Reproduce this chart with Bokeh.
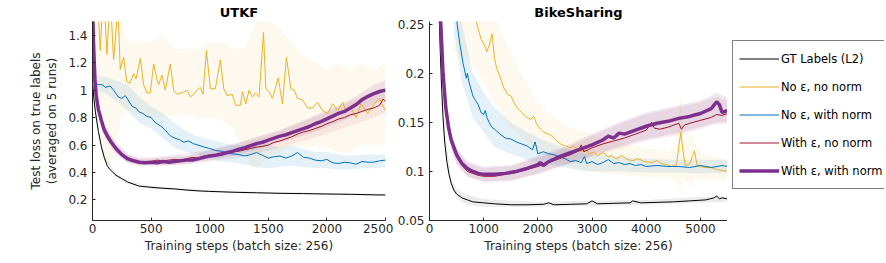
from bokeh.plotting import figure
from bokeh.layouts import row
from bokeh.models import Legend, LegendItem, FixedTicker, Range1d, NumeralTickFormatter
from bokeh.embed import file_html
from bokeh.resources import INLINE

# ---------------- UTKF ----------------
utk_gt_x = [0, 10, 25, 50, 75, 100, 125, 150, 200, 250, 300, 400, 500, 600, 700, 800, 900, 1000, 1200, 1400, 1600, 1800, 2000, 2200, 2400, 2500]
utk_gt_y = [1.06, 0.95, 0.84, 0.70, 0.59, 0.51, 0.45, 0.42, 0.38, 0.355, 0.33, 0.30, 0.292, 0.285, 0.28, 0.272, 0.266, 0.262, 0.256, 0.252, 0.248, 0.246, 0.243, 0.241, 0.237, 0.236]
utk_gt_bx = [0, 50, 100, 200, 300, 500, 1000, 1500, 2000, 2500]
utk_gt_lo = [1.0, 0.68, 0.49, 0.365, 0.32, 0.282, 0.254, 0.244, 0.235, 0.228]
utk_gt_hi = [1.12, 0.72, 0.53, 0.395, 0.34, 0.302, 0.270, 0.258, 0.25, 0.244]

utk_y_x = [0, 15, 37, 66, 94, 123, 151, 180, 217, 237, 265, 293, 320, 351, 371, 408, 436, 465, 493, 522, 550, 564, 593, 621, 664, 692, 721, 764, 807, 835, 863, 892, 920, 943, 972, 1006, 1048, 1091, 1120, 1148, 1191, 1222, 1262, 1279, 1308, 1336, 1364, 1393, 1421, 1459, 1479, 1507, 1536, 1584, 1621, 1655, 1692, 1721, 1750, 1792, 1835, 1877, 1920, 1963, 2006, 2049, 2092, 2135, 2163, 2206, 2249, 2291, 2348, 2405, 2448, 2476, 2500]
utk_y_y = [1.36, 1.7, 1.8, 1.29, 1.75, 1.26, 1.7, 1.22, 1.6, 1.15, 1.24, 1.06, 1.05, 1.12, 1.08, 1.23, 1.04, 0.98, 0.98, 1.19, 1.08, 1.04, 1.11, 1.0, 1.19, 1.0, 0.97, 0.98, 1.0, 0.95, 0.97, 1.0, 1.02, 0.97, 1.29, 1.01, 1.01, 1.22, 1.01, 0.96, 0.97, 0.89, 0.89, 0.99, 0.9, 1.0, 0.95, 0.98, 0.95, 1.42, 1.01, 0.99, 0.94, 1.09, 0.9, 1.24, 1.01, 1.0, 0.94, 0.93, 0.87, 0.87, 0.91, 0.85, 0.83, 0.9, 0.85, 0.91, 0.85, 0.87, 0.8, 0.9, 0.83, 0.9, 0.94, 0.89, 0.85]
utk_y_bx = [0, 50, 100, 150, 200, 250, 300, 400, 500, 600, 700, 800, 900, 1000, 1100, 1200, 1300, 1350, 1400, 1450, 1500, 1600, 1700, 1800, 1900, 2000, 2100, 2200, 2300, 2400, 2500]
utk_y_lo = [1.2, 0.9, 0.5, 0.45, 0.6, 0.8, 0.85, 0.82, 0.8, 0.8, 0.82, 0.82, 0.8, 0.8, 0.78, 0.72, 0.55, 0.45, 0.42, 0.48, 0.5, 0.55, 0.6, 0.58, 0.6, 0.58, 0.55, 0.55, 0.6, 0.6, 0.6]
utk_y_hi = [1.6, 1.6, 1.6, 1.6, 1.6, 1.5, 1.35, 1.35, 1.35, 1.4, 1.3, 1.3, 1.3, 1.35, 1.35, 1.3, 1.3, 1.4, 1.5, 1.6, 1.5, 1.45, 1.35, 1.25, 1.2, 1.15, 1.2, 1.15, 1.2, 1.15, 1.2]

utk_b_x = [0, 25, 50, 80, 110, 150, 180, 220, 250, 280, 310, 340, 370, 400, 430, 460, 500, 540, 580, 620, 660, 700, 740, 780, 820, 860, 900, 950, 1000, 1050, 1100, 1150, 1200, 1250, 1300, 1350, 1400, 1450, 1500, 1550, 1600, 1650, 1700, 1750, 1800, 1850, 1900, 1950, 2000, 2050, 2100, 2150, 2200, 2250, 2300, 2350, 2400, 2450, 2500]
utk_b_y = [1.07, 1.05, 1.04, 1.04, 1.02, 1.03, 1.0, 0.95, 0.94, 0.96, 0.92, 0.88, 0.87, 0.84, 0.83, 0.81, 0.80, 0.76, 0.74, 0.71, 0.67, 0.65, 0.64, 0.62, 0.63, 0.61, 0.60, 0.585, 0.575, 0.56, 0.555, 0.54, 0.535, 0.53, 0.52, 0.53, 0.545, 0.525, 0.505, 0.515, 0.52, 0.505, 0.52, 0.545, 0.51, 0.505, 0.49, 0.485, 0.495, 0.47, 0.465, 0.475, 0.47, 0.46, 0.48, 0.475, 0.475, 0.485, 0.49]
utk_b_bx = [0, 100, 200, 300, 400, 500, 600, 700, 800, 900, 1000, 1100, 1200, 1300, 1400, 1500, 1600, 1700, 1800, 1900, 2000, 2100, 2200, 2300, 2400, 2500]
utk_b_lo = [1.0, 0.98, 0.92, 0.85, 0.76, 0.72, 0.65, 0.58, 0.55, 0.53, 0.5, 0.48, 0.47, 0.46, 0.44, 0.43, 0.44, 0.45, 0.44, 0.43, 0.43, 0.42, 0.42, 0.43, 0.43, 0.44]
utk_b_hi = [1.1, 1.1, 1.07, 1.04, 0.95, 0.88, 0.83, 0.76, 0.7, 0.66, 0.64, 0.62, 0.6, 0.6, 0.63, 0.6, 0.58, 0.6, 0.57, 0.55, 0.55, 0.53, 0.52, 0.53, 0.53, 0.53]

utk_r_x = [0, 10, 20, 30, 50, 75, 100, 130, 160, 200, 250, 300, 350, 400, 450, 500, 550, 600, 650, 700, 750, 800, 850, 900, 950, 1000, 1050, 1100, 1150, 1200, 1250, 1300, 1350, 1400, 1450, 1500, 1550, 1600, 1650, 1700, 1750, 1800, 1850, 1900, 1950, 2000, 2050, 2100, 2150, 2200, 2250, 2300, 2350, 2400, 2450, 2480, 2500]
utk_r_y = [1.6, 1.28, 1.07, 0.96, 0.85, 0.77, 0.70, 0.655, 0.615, 0.57, 0.53, 0.505, 0.49, 0.48, 0.478, 0.48, 0.49, 0.485, 0.49, 0.495, 0.49, 0.50, 0.51, 0.505, 0.52, 0.525, 0.53, 0.525, 0.54, 0.55, 0.555, 0.565, 0.575, 0.585, 0.59, 0.6, 0.62, 0.63, 0.645, 0.66, 0.68, 0.695, 0.705, 0.72, 0.735, 0.755, 0.77, 0.79, 0.80, 0.82, 0.83, 0.845, 0.86, 0.87, 0.89, 0.935, 0.915]
utk_r_bx = [0, 50, 100, 200, 300, 400, 500, 600, 800, 1000, 1200, 1400, 1600, 1800, 2000, 2200, 2400, 2500]
utk_r_lo = [1.5, 0.81, 0.66, 0.53, 0.47, 0.45, 0.45, 0.45, 0.46, 0.48, 0.5, 0.54, 0.58, 0.63, 0.68, 0.74, 0.8, 0.83]
utk_r_hi = [1.7, 0.9, 0.75, 0.62, 0.54, 0.51, 0.51, 0.52, 0.54, 0.57, 0.61, 0.65, 0.7, 0.77, 0.84, 0.92, 0.98, 1.0]

utk_p_x = [0, 10, 20, 30, 50, 75, 100, 130, 160, 200, 250, 300, 350, 400, 450, 500, 550, 600, 650, 700, 750, 800, 850, 900, 950, 1000, 1050, 1100, 1150, 1200, 1250, 1300, 1350, 1400, 1450, 1500, 1550, 1600, 1650, 1700, 1750, 1800, 1850, 1900, 1950, 2000, 2050, 2100, 2150, 2200, 2250, 2300, 2350, 2400, 2450, 2500]
utk_p_y = [1.65, 1.3, 1.08, 0.97, 0.86, 0.78, 0.71, 0.66, 0.62, 0.575, 0.53, 0.50, 0.485, 0.475, 0.47, 0.475, 0.47, 0.48, 0.475, 0.48, 0.485, 0.49, 0.49, 0.50, 0.51, 0.52, 0.525, 0.535, 0.545, 0.555, 0.57, 0.58, 0.595, 0.61, 0.62, 0.635, 0.65, 0.665, 0.675, 0.69, 0.705, 0.72, 0.735, 0.755, 0.77, 0.79, 0.81, 0.83, 0.845, 0.87, 0.895, 0.93, 0.955, 0.975, 0.99, 1.0]
utk_p_bx = [0, 50, 100, 200, 300, 400, 500, 600, 800, 1000, 1200, 1400, 1600, 1800, 2000, 2200, 2400, 2500]
utk_p_lo = [1.5, 0.82, 0.67, 0.54, 0.47, 0.45, 0.45, 0.45, 0.46, 0.49, 0.52, 0.57, 0.62, 0.67, 0.73, 0.8, 0.9, 0.93]
utk_p_hi = [1.7, 0.9, 0.75, 0.61, 0.53, 0.5, 0.5, 0.51, 0.52, 0.56, 0.6, 0.66, 0.71, 0.78, 0.85, 0.93, 1.04, 1.07]

# ---------------- BikeSharing ----------------
bk_gt_x = [0, 100, 150, 180, 200, 220, 250, 280, 320, 360, 400, 450, 500, 600, 700, 800, 1000, 1200, 1500, 1800, 2100, 2200, 2300, 2600, 2900, 3000, 3100, 3400, 3700, 3750, 3900, 4200, 4500, 4800, 5100, 5250, 5300, 5350, 5400, 5500]
bk_gt_y = [0.6, 0.4, 0.3, 0.255, 0.22, 0.19, 0.155, 0.13, 0.11, 0.097, 0.088, 0.081, 0.077, 0.073, 0.071, 0.069, 0.068, 0.067, 0.066, 0.066, 0.0665, 0.068, 0.066, 0.0665, 0.067, 0.07, 0.067, 0.0675, 0.068, 0.07, 0.068, 0.0685, 0.069, 0.07, 0.071, 0.073, 0.075, 0.072, 0.073, 0.072]
bk_gt_bx = [100, 180, 250, 300, 400, 500, 700, 1000, 1500, 2000, 3000, 4000, 5000, 5500]
bk_gt_lo = [0.38, 0.245, 0.15, 0.12, 0.084, 0.072, 0.066, 0.064, 0.064, 0.064, 0.065, 0.066, 0.068, 0.069]
bk_gt_hi = [0.42, 0.265, 0.165, 0.135, 0.094, 0.082, 0.076, 0.072, 0.07, 0.069, 0.07, 0.071, 0.074, 0.075]

bk_y_x = [800, 850, 900, 950, 1000, 1060, 1100, 1155, 1200, 1245, 1300, 1373, 1450, 1500, 1560, 1620, 1700, 1800, 1870, 1925, 1980, 2050, 2110, 2200, 2290, 2350, 2420, 2500, 2600, 2650, 2730, 2800, 2900, 2950, 3040, 3100, 3200, 3300, 3350, 3450, 3550, 3660, 3750, 3850, 3970, 4100, 4200, 4280, 4380, 4460, 4560, 4600, 4640, 4680, 4720, 4800, 4850, 4890, 4940, 5000, 5100, 5190, 5300, 5400, 5500]
bk_y_y = [0.27, 0.255, 0.245, 0.235, 0.23, 0.222, 0.228, 0.24, 0.215, 0.204, 0.197, 0.185, 0.178, 0.177, 0.17, 0.165, 0.16, 0.155, 0.153, 0.156, 0.148, 0.143, 0.14, 0.138, 0.135, 0.131, 0.128, 0.126, 0.124, 0.126, 0.123, 0.12, 0.122, 0.118, 0.12, 0.116, 0.119, 0.115, 0.116, 0.113, 0.116, 0.112, 0.111, 0.113, 0.11, 0.109, 0.111, 0.108, 0.107, 0.105, 0.107, 0.125, 0.14, 0.12, 0.106, 0.107, 0.115, 0.121, 0.106, 0.105, 0.104, 0.104, 0.102, 0.101, 0.1]
bk_y_bx = [500, 800, 1000, 1200, 1500, 1800, 2000, 2300, 2600, 2900, 3200, 3500, 3800, 4100, 4400, 4550, 4640, 4700, 4850, 4900, 5000, 5300, 5500]
bk_y_lo = [0.22, 0.21, 0.19, 0.17, 0.145, 0.13, 0.12, 0.11, 0.105, 0.1, 0.098, 0.097, 0.095, 0.094, 0.093, 0.09, 0.08, 0.09, 0.085, 0.09, 0.092, 0.09, 0.09]
bk_y_hi = [0.3, 0.3, 0.28, 0.26, 0.22, 0.19, 0.17, 0.155, 0.145, 0.14, 0.133, 0.13, 0.125, 0.123, 0.12, 0.13, 0.18, 0.13, 0.14, 0.13, 0.118, 0.115, 0.112]

bk_b_x = [480, 510, 560, 620, 680, 700, 720, 760, 800, 850, 900, 950, 1000, 1030, 1060, 1100, 1150, 1200, 1300, 1400, 1500, 1600, 1700, 1800, 1900, 1950, 2000, 2100, 2200, 2300, 2400, 2500, 2600, 2700, 2800, 2860, 2900, 3000, 3100, 3200, 3300, 3400, 3500, 3600, 3700, 3800, 3900, 4000, 4200, 4400, 4600, 4800, 5000, 5200, 5400, 5500]
bk_b_y = [0.27, 0.25, 0.23, 0.21, 0.195, 0.2, 0.193, 0.185, 0.177, 0.172, 0.168, 0.16, 0.158, 0.162, 0.155, 0.15, 0.145, 0.143, 0.138, 0.134, 0.133, 0.13, 0.128, 0.126, 0.122, 0.13, 0.118, 0.12, 0.118, 0.117, 0.115, 0.113, 0.11, 0.111, 0.109, 0.115, 0.108, 0.11, 0.107, 0.109, 0.112, 0.108, 0.109, 0.107, 0.108, 0.106, 0.107, 0.105, 0.106, 0.105, 0.105, 0.104, 0.106, 0.104, 0.106, 0.105]
bk_b_bx = [450, 600, 800, 1000, 1200, 1500, 1800, 2100, 2400, 2700, 3000, 3500, 4000, 4500, 5000, 5500]
bk_b_lo = [0.24, 0.19, 0.155, 0.14, 0.125, 0.118, 0.112, 0.108, 0.105, 0.102, 0.1, 0.1, 0.099, 0.099, 0.098, 0.099]
bk_b_hi = [0.3, 0.25, 0.2, 0.18, 0.165, 0.15, 0.14, 0.132, 0.126, 0.12, 0.117, 0.115, 0.113, 0.112, 0.112, 0.112]

bk_r_x = [200, 250, 300, 350, 400, 500, 600, 700, 800, 900, 1000, 1200, 1400, 1600, 1800, 2000, 2200, 2400, 2600, 2750, 2800, 2850, 3000, 3200, 3400, 3600, 3800, 4000, 4100, 4150, 4250, 4400, 4600, 4650, 4700, 4800, 5000, 5200, 5300, 5400, 5500]
bk_r_y = [0.26, 0.2, 0.163, 0.142, 0.13, 0.115, 0.106, 0.1, 0.098, 0.096, 0.095, 0.095, 0.097, 0.099, 0.102, 0.105, 0.109, 0.113, 0.117, 0.121, 0.127, 0.12, 0.124, 0.128, 0.131, 0.134, 0.138, 0.142, 0.15, 0.144, 0.143, 0.145, 0.149, 0.143, 0.147, 0.149, 0.152, 0.155, 0.158, 0.157, 0.159]
bk_r_bx = [200, 300, 400, 500, 700, 1000, 1500, 2000, 2500, 3000, 3500, 4000, 4500, 5000, 5300, 5500]
bk_r_lo = [0.24, 0.155, 0.123, 0.107, 0.094, 0.089, 0.09, 0.097, 0.106, 0.115, 0.123, 0.131, 0.136, 0.143, 0.148, 0.148]
bk_r_hi = [0.28, 0.175, 0.139, 0.123, 0.108, 0.103, 0.105, 0.114, 0.123, 0.136, 0.148, 0.158, 0.164, 0.17, 0.176, 0.172]

bk_p_x = [200, 250, 300, 350, 400, 500, 600, 700, 800, 900, 1000, 1200, 1400, 1600, 1800, 2000, 2050, 2100, 2200, 2400, 2600, 2800, 3000, 3200, 3300, 3400, 3500, 3600, 3800, 4000, 4200, 4400, 4600, 4800, 5000, 5200, 5300, 5350, 5400, 5500]
bk_p_y = [0.26, 0.2, 0.165, 0.145, 0.132, 0.117, 0.108, 0.103, 0.1, 0.098, 0.097, 0.097, 0.098, 0.1, 0.103, 0.107, 0.109, 0.106, 0.11, 0.115, 0.119, 0.123, 0.127, 0.132, 0.136, 0.134, 0.139, 0.138, 0.142, 0.146, 0.149, 0.151, 0.154, 0.156, 0.159, 0.164, 0.171, 0.168, 0.16, 0.162]
bk_p_bx = [200, 300, 400, 500, 700, 1000, 1500, 2000, 2500, 3000, 3500, 4000, 4500, 5000, 5300, 5500]
bk_p_lo = [0.24, 0.155, 0.124, 0.108, 0.095, 0.09, 0.091, 0.098, 0.107, 0.116, 0.125, 0.133, 0.138, 0.145, 0.15, 0.15]
bk_p_hi = [0.28, 0.175, 0.14, 0.124, 0.11, 0.105, 0.106, 0.116, 0.125, 0.138, 0.15, 0.16, 0.166, 0.172, 0.18, 0.175]

utk_xticks = [0, 500, 1000, 1500, 2000, 2500]
utk_yticks = [0.2, 0.4, 0.6, 0.8, 1.0, 1.2, 1.4]
bk_xticks = [0, 1000, 2000, 3000, 4000, 5000]
bk_yticks = [0.05, 0.1, 0.15, 0.2, 0.25]

labels = ["GT Labels (L2)", "No \u03b5, no norm", "No \u03b5, with norm", "With \u03b5, no norm", "With \u03b5, with norm"]

C_GT, C_Y, C_B, C_R, C_P = "#000000", "#EDB120", "#0072BD", "#A2142F", "#7E2F8E"
COLORS = [C_GT, C_Y, C_B, C_R, C_P]
WIDTHS = [1, 1, 1, 1, 3.5]
FONT = "DejaVu Sans"
TXT = "#262626"


def make_fig(title, xr, yr, xt, yt, fw, left_border, right_border, ylabel):
    p = figure(frame_width=fw, frame_height=199, x_range=Range1d(*xr), y_range=Range1d(*yr),
               output_backend="svg", toolbar_location=None,
               min_border_left=left_border, min_border_right=right_border,
               min_border_top=0, min_border_bottom=34)
    p.title.text = title
    p.title.align = "center"
    p.title.text_font = FONT
    p.title.text_font_size = "13px"
    p.title.text_font_style = "bold"
    p.title.text_color = "#000000"
    p.title.standoff = 4
    p.title.offset = 0
    p.outline_line_color = None
    p.xgrid.visible = False
    p.ygrid.visible = False
    for ax in (p.xaxis[0], p.yaxis[0]):
        ax.axis_line_color = TXT
        ax.major_tick_line_color = TXT
        ax.major_tick_in = 3
        ax.major_tick_out = 0
        ax.minor_tick_in = 0
        ax.minor_tick_out = 0
        ax.major_label_text_font = FONT
        ax.major_label_text_font_size = "12px"
        ax.major_label_text_color = TXT
        ax.axis_label_text_font = FONT
        ax.axis_label_text_font_size = "12px"
        ax.axis_label_text_font_style = "normal"
        ax.axis_label_text_color = TXT
    p.xaxis.ticker = FixedTicker(ticks=xt)
    p.yaxis.ticker = FixedTicker(ticks=yt)
    p.yaxis.formatter = NumeralTickFormatter(format="0.[00]")
    p.xaxis.axis_label = "Training steps (batch size: 256)"
    p.xaxis.major_label_standoff = 3
    p.xaxis.axis_label_standoff = 3
    p.yaxis.major_label_standoff = 5
    if ylabel:
        p.yaxis.axis_label = ylabel
        p.yaxis.axis_label_standoff = 6
    return p


def draw(p, series):
    for (bx, lo, hi, col, alpha) in series["bands"]:
        p.varea(x=bx, y1=lo, y2=hi, fill_color=col, fill_alpha=alpha)
    rs = []
    for (x, y, col, w) in series["lines"]:
        rs.append(p.line(x, y, line_color=col, line_width=w))
    return rs


p1 = make_fig("UTKF", (0, 2500), (0.05, 1.5), utk_xticks, utk_yticks, 293, 92, 8,
              "Test loss on true labels\n(averaged on 5 runs)")
draw(p1, {
    "bands": [
        (utk_y_bx, utk_y_lo, utk_y_hi, C_Y, 0.08),
        (utk_b_bx, utk_b_lo, utk_b_hi, C_B, 0.1),
        (utk_gt_bx, utk_gt_lo, utk_gt_hi, "#808080", 0.15),
        (utk_r_bx, utk_r_lo, utk_r_hi, C_R, 0.08),
        (utk_p_bx, utk_p_lo, utk_p_hi, C_P, 0.12),
    ],
    "lines": [
        (utk_gt_x, utk_gt_y, C_GT, 1),
        (utk_y_x, utk_y_y, C_Y, 1),
        (utk_b_x, utk_b_y, C_B, 1),
        (utk_r_x, utk_r_y, C_R, 1),
        (utk_p_x, utk_p_y, C_P, 3.5),
    ],
})

bk_lines = [
    (bk_gt_x, bk_gt_y, C_GT, 1),
    (bk_y_x, bk_y_y, C_Y, 1),
    (bk_b_x, bk_b_y, C_B, 1),
    (bk_r_x, bk_r_y, C_R, 1),
    (bk_p_x, bk_p_y, C_P, 3.5),
]
p2 = make_fig("BikeSharing", (0, 5500), (0.05, 0.2527), bk_xticks, bk_yticks, 298, 36, 0, None)
draw(p2, {
    "bands": [
        (bk_y_bx, bk_y_lo, bk_y_hi, C_Y, 0.08),
        (bk_b_bx, bk_b_lo, bk_b_hi, C_B, 0.1),
        (bk_gt_bx, bk_gt_lo, bk_gt_hi, "#808080", 0.15),
        (bk_r_bx, bk_r_lo, bk_r_hi, C_R, 0.08),
        (bk_p_bx, bk_p_lo, bk_p_hi, C_P, 0.12),
    ],
    "lines": bk_lines,
})

# legend-only panel to the right: same series, drawn outside its visible range
p3 = figure(frame_width=157, frame_height=247, output_backend="svg", toolbar_location=None,
            min_border=0, x_range=Range1d(-20000, -10000), y_range=Range1d(0.05, 0.2527))
p3.outline_line_color = None
p3.axis.visible = False
p3.grid.visible = False
leg_rs = [p3.line(x, y, line_color=c, line_width=w) for (x, y, c, w) in bk_lines]
legend = Legend(items=[LegendItem(label=l, renderers=[r]) for l, r in zip(labels, leg_rs)],
                location=(5, 58), border_line_color="#000000", border_line_width=1,
                background_fill_color="white", background_fill_alpha=1,
                label_text_font=FONT, label_text_font_size="11.5px", label_text_color="#000000",
                glyph_width=40, glyph_height=23, label_height=23, spacing=5,
                padding=6, margin=0, label_standoff=2)
p3.add_layout(legend, "center")

layout = row(p1, p2, p3)
open("out.html", "w").write(file_html(layout, INLINE))
